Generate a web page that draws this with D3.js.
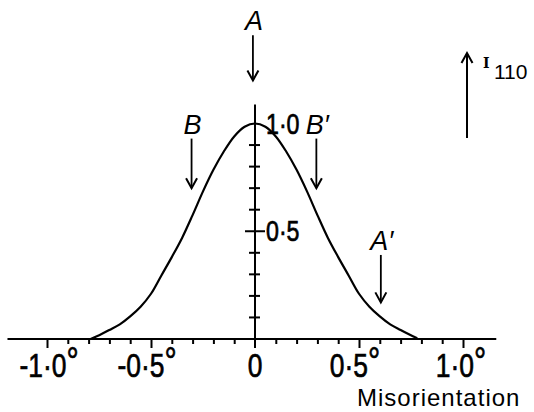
<!DOCTYPE html>
<html>
<head>
<meta charset="utf-8">
<script src="https://cdn.jsdelivr.net/npm/d3@7"></script>
<style>
  html, body { margin: 0; padding: 0; background: #fff; }
  svg { display: block; }
  .num { font-family: "Liberation Sans Narrow", "Liberation Sans", "DejaVu Sans Condensed", sans-serif; fill: #000; stroke: #000; stroke-width: 0.7; }
  .lab { font-family: "Liberation Sans", "DejaVu Sans", sans-serif; fill: #000; }
</style>
</head>
<body>
<script>
// Intensity profile of the 110 reflection against crystal misorientation
const curveX = [-0.79, -0.74, -0.70, -0.65, -0.60, -0.55, -0.50, -0.45, -0.40, -0.35, -0.30, -0.25, -0.20, -0.15, -0.10, -0.05,
                0, 0.05, 0.10, 0.15, 0.20, 0.25, 0.30, 0.35, 0.40, 0.45, 0.50, 0.55, 0.60, 0.65, 0.70, 0.74, 0.78];
const curveI = [0.0, 0.022, 0.042, 0.068, 0.105, 0.15, 0.21, 0.295, 0.38, 0.47, 0.575, 0.685, 0.785, 0.87, 0.94, 0.985,
                1.0, 0.985, 0.94, 0.87, 0.785, 0.685, 0.575, 0.47, 0.38, 0.295, 0.21, 0.15, 0.105, 0.068, 0.042, 0.022, 0.003];

const xMinorTicks = [-0.9, -0.8, -0.7, -0.6, -0.4, -0.3, -0.2, -0.1, 0.1, 0.2, 0.3, 0.4, 0.6, 0.7, 0.8, 0.9];
const xMajorTicks = [-1.0, -0.5, 0.5, 1.0];
const xTickValues = [-1.0, -0.5, 0, 0.5, 1.0];
const xTickLabels = ["-1·0", "-0·5", "0", "0·5", "1·0"];
const yMinorTicks = [0.1, 0.2, 0.3, 0.4, 0.6, 0.7, 0.8, 0.9];
const yTickValues = [1.0, 0.5];
const yTickLabels = ["1·0", "0·5"];

// Marked orientations: [label, misorientation, arrow top (I), arrow bottom (I)]
const markers = [
  ["A", -0.01, 1.41, 1.2],
  ["B", -0.305, 0.93, 0.70],
  ["B′", 0.295, 0.93, 0.70],
  ["A′", 0.605, 0.39, 0.17]
];

const W = 534, H = 412;
const svg = d3.select("body").append("svg").attr("width", W).attr("height", H);

const x = d3.scaleLinear().domain([-1, 1]).range([47, 463]);
const y = d3.scaleLinear().domain([0, 1]).range([339, 123.5]);

// Horizontal axis line
svg.append("line")
  .attr("x1", x(-1.19)).attr("x2", x(1.16))
  .attr("y1", y(0)).attr("y2", y(0))
  .attr("stroke", "#000").attr("stroke-width", 2);

// Minor and major hanging ticks
const minorAxis = d3.axisBottom(x).tickValues(xMinorTicks).tickSize(5).tickFormat("");
const majorAxis = d3.axisBottom(x).tickValues(xMajorTicks).tickSize(9).tickFormat("");
[minorAxis, majorAxis].forEach(ax => {
  const g = svg.append("g").attr("transform", `translate(0,${y(0)})`).call(ax);
  g.select(".domain").remove();
  g.selectAll(".tick line").attr("stroke", "#000").attr("stroke-width", 2);
});

// Vertical axis through zero
svg.append("line")
  .attr("x1", x(0)).attr("x2", x(0))
  .attr("y1", y(-0.042)).attr("y2", y(1.088))
  .attr("stroke", "#000").attr("stroke-width", 2);

// Vertical axis ticks crossing the line
svg.append("g").selectAll("line").data(yMinorTicks).join("line")
  .attr("x1", x(0) - 6).attr("x2", x(0) + 5)
  .attr("y1", d => y(d)).attr("y2", d => y(d))
  .attr("stroke", "#000").attr("stroke-width", 2);
svg.append("line")
  .attr("x1", x(0) - 10).attr("x2", x(0) + 10)
  .attr("y1", y(0.5)).attr("y2", y(0.5))
  .attr("stroke", "#000").attr("stroke-width", 2);

// Horizontal tick labels with degree marks
const labelShift = [2, -4, 0, -4, -2];
xTickValues.forEach((v, i) => {
  const g = svg.append("g")
    .attr("transform", `translate(${x(v) + labelShift[i]},377) scale(0.8,1)`);
  const t = g.append("text").attr("class", "num")
    .attr("text-anchor", "middle").attr("font-size", 33);
  t.append("tspan").text(xTickLabels[i]);
  if (v !== 0) {
    t.append("tspan").attr("dy", -3).attr("font-size", 38).text("°");
  }
});

// Vertical tick labels
yTickValues.forEach((v, i) => {
  svg.append("g")
    .attr("transform", `translate(${x(0) + 11},${y(v) + 10}) scale(0.8,1)`)
    .append("text").attr("class", "num").attr("font-size", 29)
    .text(yTickLabels[i]);
});

// Intensity curve
const line = d3.line()
  .x((d, i) => x(curveX[i]))
  .y(d => y(d))
  .curve(d3.curveCatmullRom.alpha(0.5));
svg.append("path")
  .datum(curveI)
  .attr("d", line)
  .attr("fill", "none").attr("stroke", "#000").attr("stroke-width", 2.2);

// Downward marker arrows with italic letters
function arrowHead(g, cx, tipY, dir) {
  g.append("path")
    .attr("d", `M${cx - 5.5},${tipY - dir * 10} L${cx},${tipY} L${cx + 5.5},${tipY - dir * 10}`)
    .attr("fill", "none").attr("stroke", "#000").attr("stroke-width", 2)
    .attr("stroke-linejoin", "miter");
}
markers.forEach(([lab, mx, top, bot]) => {
  const cx = x(mx);
  const g = svg.append("g");
  g.append("line").attr("x1", cx).attr("x2", cx)
    .attr("y1", y(top)).attr("y2", y(bot))
    .attr("stroke", "#000").attr("stroke-width", 1.8);
  arrowHead(g, cx, y(bot), 1);
  g.append("text").attr("class", "lab")
    .attr("x", cx + 1).attr("y", y(top) - 5)
    .attr("text-anchor", "middle")
    .attr("font-size", 27).attr("font-style", "italic")
    .text(lab);
});

// Intensity direction arrow, I110
const ix = 467;
svg.append("line").attr("x1", ix).attr("x2", ix).attr("y1", 138).attr("y2", 53)
  .attr("stroke", "#000").attr("stroke-width", 2);
arrowHead(svg, ix, 53, -1);
svg.append("text").attr("x", 483).attr("y", 68)
  .attr("font-family", "'DejaVu Serif', 'Liberation Serif', serif").attr("font-size", 14)
  .attr("font-weight", "bold")
  .attr("fill", "#000").text("I");
svg.append("text").attr("class", "lab").attr("x", 494).attr("y", 79)
  .attr("font-size", 21).text("110");

// Axis title
svg.append("text").attr("class", "lab")
  .attr("x", 357).attr("y", 406)
  .attr("font-size", 24).attr("letter-spacing", 1.0)
  .text("Misorientation");
</script>
</body>
</html>
